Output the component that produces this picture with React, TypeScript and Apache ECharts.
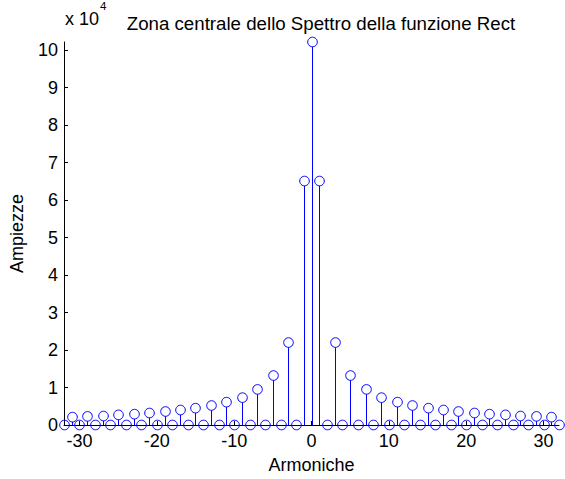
import React, { useEffect, useRef } from "react";
import * as echarts from "echarts";

const harmonics: number[] = [
  -32, -31, -30, -29, -28, -27, -26, -25, -24, -23, -22, -21, -20, -19, -18, -17, -16,
  -15, -14, -13, -12, -11, -10, -9, -8, -7, -6, -5, -4, -3, -2, -1, 0,
  1, 2, 3, 4, 5, 6, 7, 8, 9, 10, 11, 12, 13, 14, 15, 16,
  17, 18, 19, 20, 21, 22, 23, 24, 25, 26, 27, 28, 29, 30, 31, 32,
];
// amplitudes in units of 10^4
const amplitudes: number[] = [
  0, 0.21, 0, 0.23, 0, 0.24, 0, 0.27, 0, 0.29, 0, 0.32, 0, 0.36, 0, 0.4, 0,
  0.45, 0, 0.52, 0, 0.61, 0, 0.73, 0, 0.95, 0, 1.32, 0, 2.2, 0, 6.51, 10.22,
  6.51, 0, 2.2, 0, 1.32, 0, 0.95, 0, 0.73, 0, 0.61, 0, 0.52, 0, 0.45, 0,
  0.4, 0, 0.36, 0, 0.32, 0, 0.29, 0, 0.27, 0, 0.24, 0, 0.23, 0, 0.21, 0,
];
const xTicks: number[] = [-30, -20, -10, 0, 10, 20, 30];
const yTicks: number[] = [0, 1, 2, 3, 4, 5, 6, 7, 8, 9, 10];

const FONT = "Liberation Sans, Arial, sans-serif";
const BLUE = "#0000ff";

export default function App() {
  const ref = useRef<HTMLDivElement>(null);
  useEffect(() => {
    if (!ref.current) return;
    document.body.style.margin = "0";
    const chart = echarts.init(ref.current, null, { renderer: "svg" });
    const data = harmonics.map((h, i) => [h, amplitudes[i]]);
    chart.setOption({
      animation: false,
      backgroundColor: "#ffffff",
      grid: { left: 64, right: 6, top: 42, bottom: 47, containLabel: false },
      title: {
        text: "Zona centrale dello Spettro della funzione Rect",
        left: 316,
        top: 9,
        textAlign: "center",
        textStyle: { fontFamily: FONT, fontSize: 18.7, fontWeight: "normal", color: "#000" },
      },
      graphic: [
        {
          type: "text",
          left: 65,
          top: 10,
          style: { text: "x 10", font: `18px ${FONT}`, fill: "#000" },
        },
        {
          type: "text",
          left: 100,
          top: 0,
          style: { text: "4", font: `11.5px ${FONT}`, fill: "#000" },
        },
      ],
      xAxis: {
        type: "value",
        position: "bottom",
        min: -32,
        max: 32,
        name: "Armoniche",
        nameLocation: "middle",
        nameGap: 31,
        nameTextStyle: { fontFamily: FONT, fontSize: 18, color: "#000" },
        axisLine: { show: true, onZero: false, lineStyle: { color: "#000", width: 1 } },
        axisTick: { show: true, inside: true, length: 4, customValues: xTicks, lineStyle: { color: "#000" } },
        axisLabel: { customValues: xTicks, fontFamily: FONT, fontSize: 18, color: "#000", margin: 7 },
        splitLine: { show: false },
      },
      yAxis: {
        type: "value",
        position: "left",
        min: 0,
        max: 10.22,
        name: "Ampiezze",
        nameLocation: "middle",
        nameGap: 38,
        nameRotate: 90,
        nameTextStyle: { fontFamily: FONT, fontSize: 18, color: "#000" },
        axisLine: { show: true, onZero: false, lineStyle: { color: "#000", width: 1 } },
        axisTick: { show: true, inside: true, length: 4, customValues: yTicks, lineStyle: { color: "#000" } },
        axisLabel: { customValues: yTicks, fontFamily: FONT, fontSize: 18, color: "#000", margin: 6 },
        splitLine: { show: false },
      },
      series: [
        {
          type: "custom",
          clip: false,
          data,
          renderItem: (params: any, api: any) => {
            const x = api.value(0);
            const y = api.value(1);
            const top = api.coord([x, y]);
            const base = api.coord([x, 0]);
            const px = Math.round(top[0]) + 0.5;
            const r = 4.8;
            const children: any[] = [];
            if (y > 0) {
              children.push({
                type: "line",
                shape: { x1: px, y1: base[1], x2: px, y2: top[1] + r },
                style: { stroke: BLUE, lineWidth: 1 },
              });
            }
            children.push({
              type: "circle",
              shape: { cx: px, cy: top[1], r },
              style: { stroke: BLUE, fill: "none", lineWidth: 1 },
            });
            return { type: "group", children };
          },
        },
      ],
    });
    return () => chart.dispose();
  }, []);
  return <div ref={ref} style={{ width: 565, height: 479 }} />;
}
